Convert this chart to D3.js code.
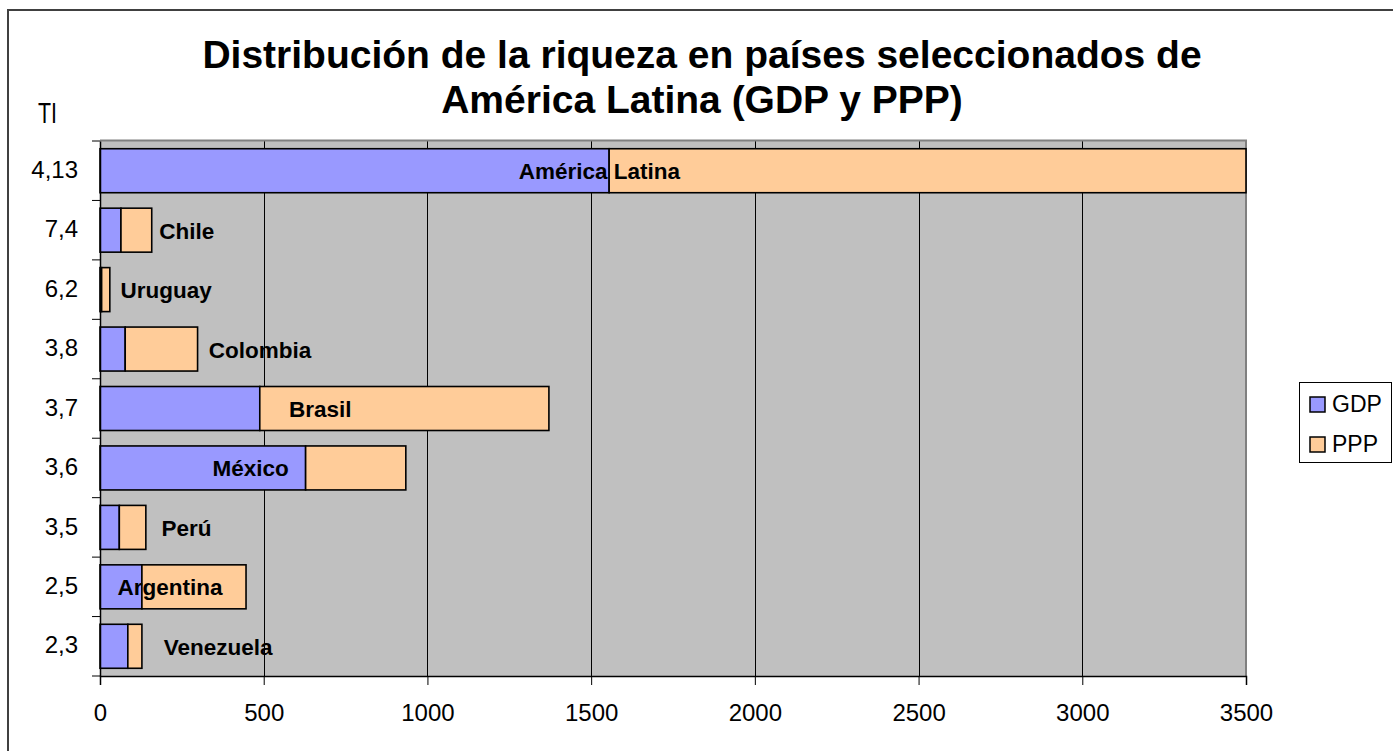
<!DOCTYPE html>
<html>
<head>
<meta charset="utf-8">
<script src="https://cdn.jsdelivr.net/npm/d3@7"></script>
<style>
  html, body { margin: 0; padding: 0; background: #ffffff; }
  svg { display: block; font-family: "Liberation Sans", Arial, sans-serif; }
</style>
</head>
<body>
<svg id="chart" width="1393" height="751"></svg>
<script>
// ---- data ----
const tiLabels   = ["4,13", "7,4", "6,2", "3,8", "3,7", "3,6", "3,5", "2,5", "2,3"];
const countries  = ["América Latina", "Chile", "Uruguay", "Colombia", "Brasil", "México", "Perú", "Argentina", "Venezuela"];
const gdpValues  = [1555, 64, 5, 77, 488, 628, 59, 128, 85];
const pppValues  = [1945, 94, 25, 221, 883, 306, 81, 318, 43];
const labelAt    = [1525, 265, 202, 489, 673, 460, 264, 214, 361];   // label centres, axis units
const xTicks     = [0, 500, 1000, 1500, 2000, 2500, 3000, 3500];
const seriesNames = ["GDP", "PPP"];
const seriesColors = ["#9999ff", "#ffcc99"];
const titleLines = ["Distribución de la riqueza en países seleccionados de", "América Latina (GDP y PPP)"];

// ---- layout ----
const svg = d3.select("#chart");
const plot = { left: 100, right: 1246, top: 141, bottom: 676 };
const font = '"Liberation Sans", Arial, sans-serif';

// outer chart border
svg.append("rect")
  .attr("x", 8).attr("y", 10).attr("width", 1420).attr("height", 800)
  .attr("fill", "#ffffff").attr("stroke", "#404040").attr("stroke-width", 2);

const x = d3.scaleLinear().domain([0, 3500]).range([plot.left, plot.right]);
const y = d3.scaleBand().domain(d3.range(countries.length))
  .range([plot.top, plot.bottom]).paddingInner(0.26).paddingOuter(0.13);

// plot background
svg.append("rect")
  .attr("x", plot.left).attr("y", plot.top)
  .attr("width", plot.right - plot.left).attr("height", plot.bottom - plot.top)
  .attr("fill", "#c0c0c0");

// gridlines
svg.append("g").selectAll("line")
  .data(xTicks.filter(t => t > 0 && t < 3500))
  .join("line")
  .attr("x1", d => Math.round(x(d)) + 0.5).attr("x2", d => Math.round(x(d)) + 0.5)
  .attr("y1", plot.top).attr("y2", plot.bottom)
  .attr("stroke", "#000").attr("stroke-width", 1);

// plot border top/right (gray)
svg.append("path")
  .attr("d", `M${plot.left},${plot.top - 0.5}H${plot.right}V${plot.bottom}`)
  .attr("fill", "none").attr("stroke", "#808080").attr("stroke-width", 2);

// stacked bars
const stackData = countries.map((c, i) => ({ i, GDP: gdpValues[i], PPP: pppValues[i] }));
const stacked = d3.stack().keys(seriesNames)(stackData);
svg.append("g").selectAll("g")
  .data(stacked)
  .join("g")
  .attr("fill", (d, k) => seriesColors[k])
  .selectAll("rect")
  .data(d => d)
  .join("rect")
  .attr("x", d => x(d[0]))
  .attr("y", d => y(d.data.i))
  .attr("width", d => Math.max(0, x(Math.min(d[1], 3500)) - x(d[0])))
  .attr("height", y.bandwidth())
  .attr("stroke", "#000").attr("stroke-width", 1.6);

// category name labels
svg.append("g").selectAll("text")
  .data(countries)
  .join("text")
  .attr("x", (d, i) => x(labelAt[i]))
  .attr("y", (d, i) => y(i) + y.bandwidth() / 2)
  .attr("dy", "0.38em")
  .attr("text-anchor", "middle")
  .attr("font-family", font).attr("font-weight", "bold").attr("font-size", 22.5)
  .attr("fill", "#000")
  .text(d => d);

// x axis
const xAxis = d3.axisBottom(x).tickValues(xTicks).tickSize(9).tickPadding(19).tickFormat(d3.format("d"));
const gx = svg.append("g").attr("transform", `translate(0,${plot.bottom})`).call(xAxis);
gx.select(".domain").attr("stroke", "#000").attr("stroke-width", 1.5);
gx.selectAll(".tick line").attr("stroke", "#000").attr("stroke-width", 1);
gx.selectAll(".tick text").attr("font-family", font).attr("font-size", 24).attr("fill", "#000");

// y axis (TI values)
const yAxis = d3.axisLeft(y).tickFormat(i => tiLabels[i]).tickSize(0).tickPadding(22);
const gy = svg.append("g").attr("transform", `translate(${plot.left},0)`).call(yAxis);
gy.select(".domain").attr("stroke", "#000").attr("stroke-width", 1.5);
gy.selectAll(".tick text").attr("font-family", font).attr("font-size", 24).attr("fill", "#000").attr("dy", "0.3em");
// category boundary ticks
const bounds = d3.range(countries.length + 1).map(k => plot.top + k * y.step());
svg.append("g").selectAll("line").data(bounds).join("line")
  .attr("x1", plot.left - 8).attr("x2", plot.left)
  .attr("y1", d => d).attr("y2", d => d)
  .attr("stroke", "#000").attr("stroke-width", 1);

// y axis title
svg.append("text")
  .attr("x", 38).attr("y", 123)
  .attr("font-family", font).attr("font-size", 30)
  .attr("textLength", 19).attr("lengthAdjust", "spacingAndGlyphs")
  .text("TI");

// title
svg.append("g").selectAll("text")
  .data(titleLines)
  .join("text")
  .attr("x", 702).attr("y", (d, i) => 68 + i * 45)
  .attr("text-anchor", "middle")
  .attr("font-family", font).attr("font-weight", "bold").attr("font-size", 39)
  .attr("fill", "#000")
  .text(d => d);

// legend
const lg = svg.append("g");
lg.append("rect").attr("x", 1299.5).attr("y", 382.5).attr("width", 92).attr("height", 80)
  .attr("fill", "#fff").attr("stroke", "#000").attr("stroke-width", 1);
const items = lg.selectAll("g.item").data(seriesNames).join("g").attr("class", "item")
  .attr("transform", (d, i) => `translate(0,${i * 40})`);
items.append("rect").attr("x", 1310).attr("y", 397).attr("width", 15).attr("height", 15)
  .attr("fill", (d, i) => seriesColors[i]).attr("stroke", "#000").attr("stroke-width", 1.5);
items.append("text").attr("x", 1332).attr("y", 412)
  .attr("font-family", font).attr("font-size", 23).attr("fill", "#000")
  .text(d => d);
</script>
</body>
</html>
